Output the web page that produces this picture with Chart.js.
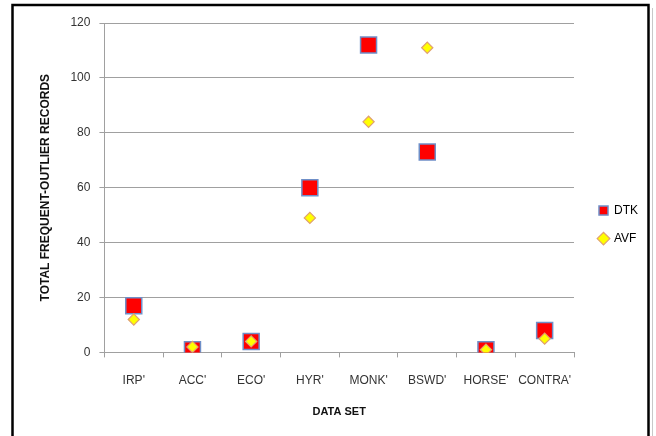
<!DOCTYPE html>
<html>
<head>
<meta charset="utf-8">
<script src="https://cdn.jsdelivr.net/npm/chart.js@4/dist/chart.umd.min.js"></script>
<style>
  html, body { margin: 0; padding: 0; background: #ffffff; }
  #wrap { position: relative; width: 656px; height: 436px; }
</style>
</head>
<body>
<div id="wrap"><canvas id="c" width="656" height="436"></canvas></div>
<script>
const categories = ["IRP'", "ACC'", "ECO'", "HYR'", "MONK'", "BSWD'", "HORSE'", "CONTRA'"];
const dtkValues = [17, 1, 4, 60, 112, 73, 1, 8];
const avfValues = [12, 2, 4, 49, 84, 111, 1, 5];
const seriesNames = ["DTK", "AVF"];
const yTitle = "TOTAL FREQUENT-OUTLIER RECORDS";
const xTitle = "DATA SET";

const frame = {
  id: 'frame',
  beforeDraw(chart) {
    const ctx = chart.ctx;
    ctx.save();
    ctx.fillStyle = '#ffffff';
    ctx.fillRect(0, 0, chart.width, chart.height);
    ctx.strokeStyle = '#000000';
    ctx.lineWidth = 2.5;
    ctx.strokeRect(12.5, 5, 636, 440);
    ctx.strokeStyle = '#c8c8c8';
    ctx.lineWidth = 1;
    ctx.beginPath();
    ctx.moveTo(652.5, 8);
    ctx.lineTo(652.5, 436);
    ctx.stroke();
    ctx.restore();
  }
};

const gridColor = '#a0a0a0';
const fontFamily = 'Liberation Sans, Arial, sans-serif';

new Chart(document.getElementById('c'), {
  type: 'line',
  data: {
    labels: categories,
    datasets: [
      {
        label: seriesNames[0],
        data: dtkValues,
        showLine: false,
        pointStyle: 'rect',
        pointRadius: 11.3,
        pointHoverRadius: 11.3,
        pointBackgroundColor: '#ff0000',
        pointBorderColor: '#6f8fc8',
        pointBorderWidth: 1.5,
        backgroundColor: '#ff0000',
        borderColor: '#6f8fc8',
        order: 1
      },
      {
        label: seriesNames[1],
        data: avfValues,
        showLine: false,
        pointStyle: 'rectRot',
        pointRadius: 5.6,
        pointHoverRadius: 5.6,
        pointBackgroundColor: '#ffff00',
        pointBorderColor: '#e0a070',
        pointBorderWidth: 1.2,
        backgroundColor: '#ffff00',
        borderColor: '#e0a070',
        order: 0
      }
    ]
  },
  options: {
    responsive: false,
    animation: false,
    devicePixelRatio: 1,
    layout: { padding: { left: 33, right: 8, top: 23, bottom: 17 } },
    plugins: {
      legend: {
        position: 'right',
        align: 'center',
        title: { display: true, text: '', font: { size: 1 }, padding: { top: 3, bottom: 3 } },
        labels: {
          usePointStyle: true,
          boxHeight: 9,
          boxWidth: 9,
          padding: 16,
          color: '#000000',
          font: { family: fontFamily, size: 12 },
          sort: (a, b) => a.datasetIndex - b.datasetIndex
        }
      },
      tooltip: { enabled: false }
    },
    scales: {
      x: {
        type: 'category',
        offset: true,
        grid: {
          offset: true,
          drawOnChartArea: false,
          drawTicks: true,
          tickLength: 5,
          color: gridColor
        },
        border: { color: gridColor, width: 1 },
        ticks: {
          color: '#333333',
          padding: 16,
          maxRotation: 0,
          autoSkip: false,
          font: { family: fontFamily, size: 12 }
        },
        title: {
          display: true,
          text: xTitle,
          color: '#111111',
          padding: { top: 2, bottom: 0 },
          font: { family: fontFamily, size: 11, weight: 'bold' }
        }
      },
      y: {
        min: 0,
        max: 120,
        grid: {
          color: gridColor,
          drawTicks: true,
          tickLength: 5
        },
        border: { color: gridColor, width: 1 },
        ticks: {
          stepSize: 20,
          color: '#333333',
          padding: 9,
          font: { family: fontFamily, size: 12 }
        },
        title: {
          display: true,
          text: yTitle,
          color: '#111111',
          padding: { top: 5, bottom: 9 },
          font: { family: fontFamily, size: 12, weight: 'bold' }
        }
      },
      gap: {
        type: 'linear',
        position: 'right',
        display: true,
        grid: { display: false },
        border: { display: false },
        ticks: { display: false },
        title: { display: false },
        afterFit(scale) { scale.width = 9; }
      }
    }
  },
  plugins: [frame]
});
</script>
</body>
</html>
